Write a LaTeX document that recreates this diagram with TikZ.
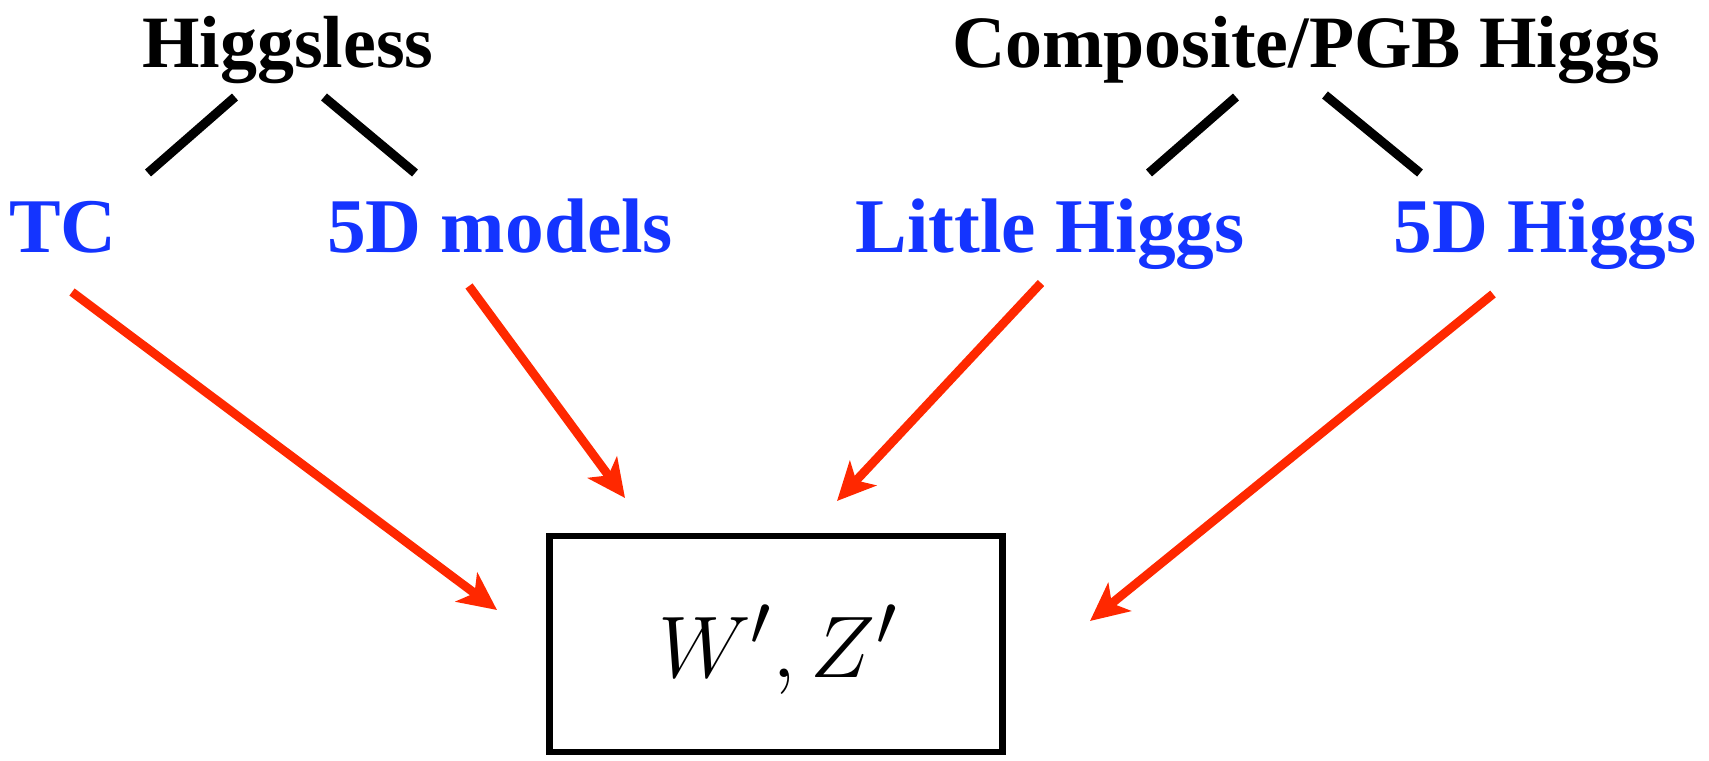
\documentclass[tikz,border=0pt]{standalone}
\usepackage{fontspec}
\setmainfont{Liberation Serif}
\usetikzlibrary{arrows.meta}
\definecolor{myblue}{RGB}{20,52,255}
\definecolor{myred}{RGB}{255,40,0}
\begin{document}
\begin{tikzpicture}[x=0.01cm,y=-0.01cm,
  toptext/.style={anchor=base,inner sep=0pt,font=\bfseries\fontsize{21}{25}\selectfont,text=black},
  subtext/.style={anchor=base,inner sep=0pt,font=\bfseries\fontsize{22}{26}\selectfont,text=myblue},
  branch/.style={line width=2.6pt,black},
  feed/.style={line width=2.5pt,myred,-{Stealth[length=0.38cm,width=0.36cm,inset=0.1cm]}},
  resbox/.style={draw,line width=1.8pt,minimum width=4.53cm,minimum height=2.16cm,inner sep=0pt}]
\useasboundingbox (0,0) rectangle (1709,761);
\node[toptext] (hl) at (288,68) {Higgsless};
\node[toptext] (cp) at (1306,68) {Composite/PGB Higgs};
\node[subtext] (tc) at (63,253) {TC};
\node[subtext] (fdm) at (500,253) {5D models};
\node[subtext] (lh) at (1050,253) {Little Higgs};
\node[subtext] (fdh) at (1545,253) {5D Higgs};
\node[resbox] (box) at (776,644) {};
\node[anchor=base,inner sep=0pt,font=\fontsize{29}{32}\selectfont] (wz) at (778,677) {$W',Z'$};
% branch line endpoints
\coordinate (hlL) at (235,97);  \coordinate (tcT) at (148,173);
\coordinate (hlR) at (324,97);  \coordinate (fdmT) at (415,173);
\coordinate (cpL) at (1236,97); \coordinate (lhT) at (1149,173);
\coordinate (cpR) at (1325,95); \coordinate (fdhT) at (1420,173);
\draw[branch] (hlL) -- (tcT);
\draw[branch] (hlR) -- (fdmT);
\draw[branch] (cpL) -- (lhT);
\draw[branch] (cpR) -- (fdhT);
% arrow endpoints
\coordinate (tcB) at (72,292);    \coordinate (bxA) at (497,610);
\coordinate (fdmB) at (469,286);  \coordinate (bxB) at (625,498);
\coordinate (lhB) at (1041,283);  \coordinate (bxC) at (837,501);
\coordinate (fdhB) at (1493,294); \coordinate (bxD) at (1090,621);
\draw[feed] (tcB) -- (bxA);
\draw[feed] (fdmB) -- (bxB);
\draw[feed] (lhB) -- (bxC);
\draw[feed] (fdhB) -- (bxD);
\end{tikzpicture}
\end{document}
